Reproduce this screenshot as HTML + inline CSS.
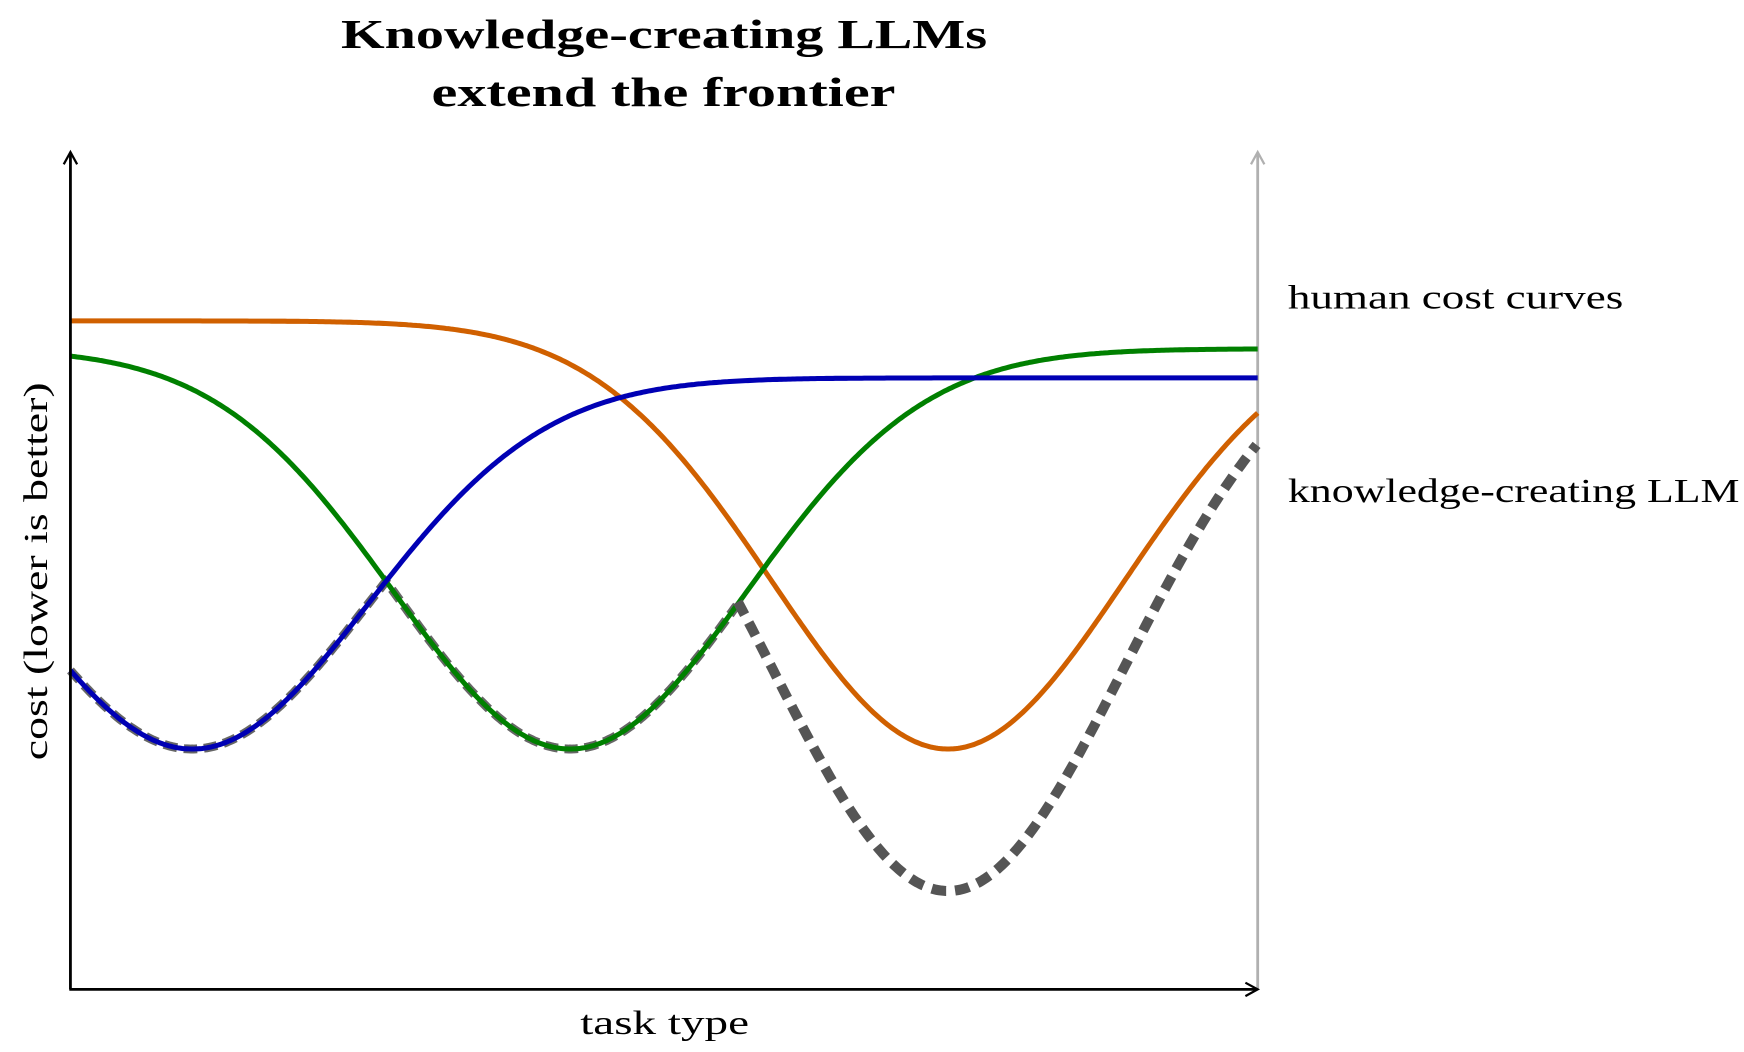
<!DOCTYPE html>
<html><head><meta charset="utf-8"><style>
html,body{margin:0;padding:0;background:#fff}
svg{display:block}
text{font-family:"Liberation Serif",serif;fill:#000}
</style></head><body>
<svg id="s" width="1744" height="1052" viewBox="0 0 1560 941" preserveAspectRatio="none" xmlns="http://www.w3.org/2000/svg">
<text x="305" y="43" font-size="37" font-weight="bold" textLength="578" lengthAdjust="spacingAndGlyphs">Knowledge-creating LLMs</text>
<text x="386" y="95" font-size="37" font-weight="bold" textLength="415" lengthAdjust="spacingAndGlyphs">extend the frontier</text>
<line x1="1125" y1="885" x2="1125" y2="137" stroke="#b0b0b0" stroke-width="2.5"/>
<path d="M1119,147 L1125,136 L1131,147" fill="none" stroke="#b0b0b0" stroke-width="2"/>
<g id="curves"></g>
<line x1="63" y1="885" x2="63" y2="137" stroke="#000" stroke-width="2.5"/>
<path d="M57,147 L63,136 L69,147" fill="none" stroke="#000" stroke-width="2"/>
<line x1="62" y1="885" x2="1124" y2="885" stroke="#000" stroke-width="2.5"/>
<path d="M1114,879 L1125,885 L1114,891" fill="none" stroke="#000" stroke-width="2"/>
<text x="519" y="925" font-size="30" textLength="151" lengthAdjust="spacingAndGlyphs">task type</text>
<text transform="translate(42,680) rotate(-90)" font-size="30" textLength="338" lengthAdjust="spacingAndGlyphs">cost (lower is better)</text>
<text x="1152" y="276" font-size="30" textLength="300" lengthAdjust="spacingAndGlyphs">human cost curves</text>
<text x="1152" y="449" font-size="30" textLength="404" lengthAdjust="spacingAndGlyphs">knowledge-creating LLM</text>
</svg>
<script>
var S2=2*158*158;
function g(base,depth,c,x){var d=x-c;return base+depth*Math.exp(-d*d/S2);}
function blue(x){return g(338,332,172,x);}
function green(x){return g(312,358,510,x);}
function orange(x){return g(287,383,848,x);}
function llm(x){return g(287,510,848,x);}
function path(f,a,b){var p="";for(var x=a;x<=b+0.01;x+=2){p+=(p?"L":"M")+x.toFixed(1)+","+f(x).toFixed(1);}return p;}
function front(x){return Math.max(blue(x),green(x));}
var out="";
out+='<path d="'+path(front,63,660)+'" fill="none" stroke="#555" stroke-width="8" stroke-dasharray="12 6" opacity="0.9"/>';
out+='<path d="'+path(orange,63,1125)+'" fill="none" stroke="#d06000" stroke-width="4.5"/>';
out+='<path d="'+path(green,63,1125)+'" fill="none" stroke="#008000" stroke-width="4.5"/>';
out+='<path d="'+path(blue,63,1125)+'" fill="none" stroke="#0000b4" stroke-width="4.5"/>';
out+='<path d="'+path(llm,660,1125)+'" fill="none" stroke="#555" stroke-width="9" stroke-dasharray="13 8"/>';
document.getElementById("curves").innerHTML=out;
</script>
</body></html>
